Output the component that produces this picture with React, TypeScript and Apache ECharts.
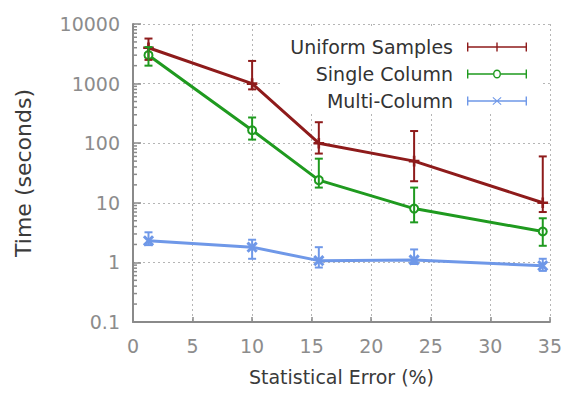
import React, { useEffect, useRef } from 'react';
import * as echarts from 'echarts';

const FONT = 'DejaVu Sans';

const xValues = [1.3, 10, 15.6, 23.6, 34.4];

const uniformTime = [4000, 1000, 100, 50, 10];
const uniformLow = [2500, 800, 67, 23, 7];
const uniformHigh = [5700, 2400, 225, 160, 60];

const singleTime = [3000, 165, 24, 8, 3.3];
const singleLow = [2000, 115, 18, 4.7, 1.9];
const singleHigh = [4100, 270, 55, 18, 5.5];

const multiTime = [2.3, 1.8, 1.07, 1.1, 0.88];
const multiLow = [1.95, 1.15, 0.82, 0.94, 0.72];
const multiHigh = [3.2, 2.4, 1.8, 1.65, 1.15];

const yTickLabels = ['0.1', '1', '10', '100', '1000', '10000'];
const minorTickValues = [
  0.2, 0.3, 0.4, 0.5, 0.6, 0.7, 0.8, 0.9,
  2, 3, 4, 5, 6, 7, 8, 9,
  20, 30, 40, 50, 60, 70, 80, 90,
  200, 300, 400, 500, 600, 700, 800, 900,
  2000, 3000, 4000, 5000, 6000, 7000, 8000, 9000,
];

const seriesNames = ['Uniform Samples', 'Single Column', 'Multi-Column'];
const colors = ['#8e1b1b', '#1f9a1f', '#6f98e8'];

const ICON_UNIFORM =
  'path://M0,0h1.4v9h-1.4z M58.6,0h1.4v9h-1.4z M0,3.8h60v1.4h-60z M29.3,0h1.4v9h-1.4z';
const ICON_SINGLE =
  'path://M0,0h1.4v9h-1.4z M58.6,0h1.4v9h-1.4z M0,3.8h26v1.4h-26z M34,3.8h26v1.4h-26z ' +
  'M26,4.5A4,4.5 0 1 0 34,4.5A4,4.5 0 1 0 26,4.5Z M27.4,4.5A2.6,3.1 0 1 1 32.6,4.5A2.6,3.1 0 1 1 27.4,4.5Z';
const ICON_MULTI =
  'path://M0,0h1.4v9h-1.4z M58.6,0h1.4v9h-1.4z M0,3.8h60v1.4h-60z ' +
  'M25.5,1.2L26.2,0.5L34.5,7.8L33.8,8.5Z M33.8,0.5L34.5,1.2L26.2,8.5L25.5,7.8Z';

const SYMBOL_PLUS = 'path://M4,0h1v9h-1z M0,4h9v1h-9z';
const SYMBOL_X = 'path://M0,1L1,0L9,8L8,9Z M8,0L9,1L1,9L0,8Z';

const pairs = (ys: number[]) => xValues.map((x, i) => [x, ys[i]]);
const triples = (lo: number[], hi: number[]) => xValues.map((x, i) => [x, lo[i], hi[i]]);

const errorBarRender = (color: string) => (_params: any, api: any) => {
  const x = api.value(0);
  const lo = api.coord([x, api.value(1)]);
  const hi = api.coord([x, api.value(2)]);
  const half = 4;
  const style = { stroke: color, lineWidth: 2 };
  return {
    type: 'group',
    children: [
      { type: 'line', shape: { x1: lo[0], y1: lo[1], x2: hi[0], y2: hi[1] }, style },
      { type: 'line', shape: { x1: lo[0] - half, y1: lo[1], x2: lo[0] + half, y2: lo[1] }, style },
      { type: 'line', shape: { x1: hi[0] - half, y1: hi[1], x2: hi[0] + half, y2: hi[1] }, style },
    ],
  };
};

const minorTickRender = (_params: any, api: any) => {
  const p = api.coord([api.value(0), api.value(1)]);
  return {
    type: 'line',
    shape: { x1: p[0], y1: p[1], x2: p[0] + 4, y2: p[1] },
    style: { stroke: '#8a8a8a', lineWidth: 1.5 },
  };
};

const lineSeries = (idx: number, ys: number[], symbol: string, size: number) => ({
  name: seriesNames[idx],
  type: 'line',
  data: pairs(ys),
  symbol,
  symbolSize: size,
  showSymbol: true,
  lineStyle: { color: colors[idx], width: 3 },
  itemStyle: { color: colors[idx], borderColor: colors[idx], borderWidth: 1.6 },
  z: 3,
});

const errSeries = (idx: number, lo: number[], hi: number[]) => ({
  type: 'custom',
  name: seriesNames[idx] + ' error',
  data: triples(lo, hi),
  encode: { x: 0, y: [1, 2] },
  renderItem: errorBarRender(colors[idx]),
  silent: true,
  z: 4,
});

const option: any = {
  animation: false,
  backgroundColor: '#ffffff',
  grid: { left: 133, right: 13, top: 24, bottom: 76, containLabel: false },
  legend: {
    orient: 'vertical',
    right: 25,
    top: 26,
    align: 'right',
    padding: [11, 13, 3, 8],
    itemGap: 7,
    itemWidth: 60,
    itemHeight: 9,
    backgroundColor: '#ffffff',
    selectedMode: false,
    z: 1,
    itemStyle: { borderWidth: 0 },
    textStyle: { fontFamily: FONT, fontSize: 19, color: '#333333', lineHeight: 20, padding: [0, 9, 0, 0] },
    data: [
      { name: seriesNames[0], icon: ICON_UNIFORM },
      { name: seriesNames[1], icon: ICON_SINGLE },
      { name: seriesNames[2], icon: ICON_MULTI },
    ],
  },
  xAxis: {
    type: 'value',
    min: 0,
    max: 35,
    interval: 5,
    name: 'Statistical Error (%)',
    nameLocation: 'middle',
    nameGap: 45,
    nameTextStyle: { fontFamily: FONT, fontSize: 19, color: '#3a3a3a' },
    axisLine: { lineStyle: { color: '#8a8a8a', width: 2 } },
    axisTick: { inside: true, length: 5, lineStyle: { color: '#8a8a8a', width: 1.5 } },
    axisLabel: { fontFamily: FONT, fontSize: 19, color: '#8c8c8c', margin: 14 },
    splitLine: { show: true, showMinLine: false, lineStyle: { type: [2, 3], color: '#b5b5b5', width: 1 } },
  },
  yAxis: {
    type: 'log',
    logBase: 10,
    min: 0.1,
    max: 10000,
    splitNumber: 5,
    name: 'Time (seconds)',
    nameLocation: 'middle',
    nameGap: 99,
    nameTextStyle: { fontFamily: FONT, fontSize: 22, color: '#3a3a3a' },
    axisLine: { show: true, lineStyle: { color: '#8a8a8a', width: 2 } },
    axisTick: { inside: true, length: 8, lineStyle: { color: '#8a8a8a', width: 1.5 } },
    axisLabel: {
      fontFamily: FONT,
      fontSize: 19,
      color: '#8c8c8c',
      margin: 13,
      formatter: (v: number) => {
        const idx = Math.round(Math.log10(v)) + 1;
        return yTickLabels[idx] ?? String(v);
      },
    },
    splitLine: { show: true, showMinLine: false, lineStyle: { type: [2, 3], color: '#b5b5b5', width: 1 } },
  },
  series: [
    lineSeries(0, uniformTime, SYMBOL_PLUS, 9),
    lineSeries(1, singleTime, 'emptyCircle', 8),
    lineSeries(2, multiTime, SYMBOL_X, 9),
    errSeries(0, uniformLow, uniformHigh),
    errSeries(1, singleLow, singleHigh),
    errSeries(2, multiLow, multiHigh),
    {
      type: 'custom',
      name: 'minor ticks',
      data: minorTickValues.map((v) => [0, v]),
      encode: { x: 0, y: 1 },
      renderItem: minorTickRender,
      silent: true,
      z: 5,
    },
  ],
};

export default function App() {
  const ref = useRef<HTMLDivElement>(null);
  useEffect(() => {
    document.body.style.margin = '0';
    const chart = echarts.init(ref.current as HTMLDivElement, null, { renderer: 'svg' });
    chart.setOption(option);
    return () => chart.dispose();
  }, []);
  return (
    <div
      ref={ref}
      style={{ position: 'absolute', left: 0, top: 0, width: 565, height: 398, background: '#fff' }}
    />
  );
}
